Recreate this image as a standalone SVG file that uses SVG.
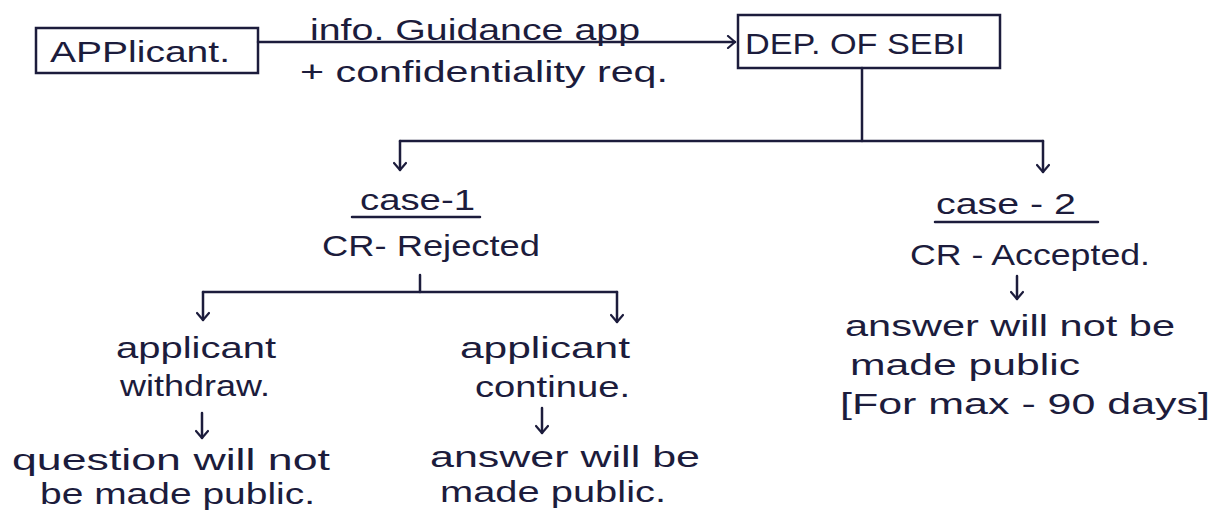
<svg xmlns="http://www.w3.org/2000/svg" width="1222" height="512" viewBox="0 0 1222 512">
<defs>
<style>
.t{font-family:"Liberation Sans","DejaVu Sans",sans-serif;font-size:30px;fill:#1c1c3c}
.box{fill:none;stroke:#1c1c3c;stroke-width:2.5}
.ln{fill:none;stroke:#1c1c3c;stroke-width:2.5;stroke-linecap:round}
.ar{fill:none;stroke:#1c1c3c;stroke-width:2.5;stroke-linecap:round;marker-end:url(#ah)}
</style>
<marker id="ah" viewBox="0 0 14 14" refX="12" refY="7" markerWidth="14" markerHeight="14" markerUnits="userSpaceOnUse" orient="auto">
<path d="M5,1 L12,7 L5,13" fill="none" stroke="#1c1c3c" stroke-width="2.2" stroke-linecap="round" stroke-linejoin="round"/>
</marker>
</defs>
<rect width="1222" height="512" fill="#ffffff"/>

<g id="connectors">
<line class="ar" x1="258" y1="42" x2="735" y2="42"/>
<line class="ln" x1="862" y1="68" x2="862" y2="141"/>
<line class="ln" x1="400" y1="141" x2="1043" y2="141"/>
<line class="ar" x1="400" y1="141" x2="400" y2="170"/>
<line class="ar" x1="1043" y1="141" x2="1043" y2="172"/>
<line class="ln" x1="420" y1="275" x2="420" y2="292"/>
<line class="ln" x1="203" y1="292" x2="617" y2="292"/>
<line class="ar" x1="203" y1="292" x2="203" y2="320"/>
<line class="ar" x1="617" y1="292" x2="617" y2="322"/>
<line class="ar" x1="202" y1="413" x2="202" y2="438"/>
<line class="ar" x1="542" y1="408" x2="542" y2="433"/>
<line class="ar" x1="1017" y1="276" x2="1017" y2="299"/>
</g>

<g id="applicant">
<rect class="box" x="36" y="28" width="222" height="45"/>
<text class="t" x="50" y="62" textLength="180" lengthAdjust="spacingAndGlyphs">APPlicant.</text>
</g>

<g id="edge-label">
<text class="t" x="310" y="40" textLength="330" lengthAdjust="spacingAndGlyphs">info. Guidance app</text>
<text class="t" x="300" y="82" textLength="368" lengthAdjust="spacingAndGlyphs">+ confidentiality req.</text>
</g>

<g id="sebi">
<rect class="box" x="738" y="15" width="262" height="53"/>
<text class="t" x="745" y="54" textLength="220" lengthAdjust="spacingAndGlyphs">DEP. OF SEBI</text>
</g>

<g id="case1">
<text class="t" x="360" y="210" textLength="115" lengthAdjust="spacingAndGlyphs">case-1</text>
<line class="ln" x1="352" y1="217" x2="480" y2="217"/>
<text class="t" x="322" y="256" textLength="218" lengthAdjust="spacingAndGlyphs">CR- Rejected</text>
</g>

<g id="withdraw">
<text class="t" x="116" y="358" textLength="160" lengthAdjust="spacingAndGlyphs">applicant</text>
<text class="t" x="120" y="396" textLength="150" lengthAdjust="spacingAndGlyphs">withdraw.</text>
<text class="t" x="12" y="470" textLength="318" lengthAdjust="spacingAndGlyphs">question will not</text>
<text class="t" x="40" y="504" textLength="275" lengthAdjust="spacingAndGlyphs">be made public.</text>
</g>

<g id="continue">
<text class="t" x="460" y="358" textLength="170" lengthAdjust="spacingAndGlyphs">applicant</text>
<text class="t" x="475" y="397" textLength="155" lengthAdjust="spacingAndGlyphs">continue.</text>
<text class="t" x="430" y="467" textLength="270" lengthAdjust="spacingAndGlyphs">answer will be</text>
<text class="t" x="440" y="502" textLength="226" lengthAdjust="spacingAndGlyphs">made public.</text>
</g>

<g id="case2">
<text class="t" x="936" y="214" textLength="140" lengthAdjust="spacingAndGlyphs">case - 2</text>
<line class="ln" x1="935" y1="222" x2="1098" y2="222"/>
<text class="t" x="910" y="265" textLength="240" lengthAdjust="spacingAndGlyphs">CR - Accepted.</text>
<text class="t" x="845" y="336" textLength="330" lengthAdjust="spacingAndGlyphs">answer will not be</text>
<text class="t" x="850" y="375" textLength="230" lengthAdjust="spacingAndGlyphs">made public</text>
<text class="t" x="840" y="414" textLength="370" lengthAdjust="spacingAndGlyphs">[For max - 90 days]</text>
</g>
</svg>
